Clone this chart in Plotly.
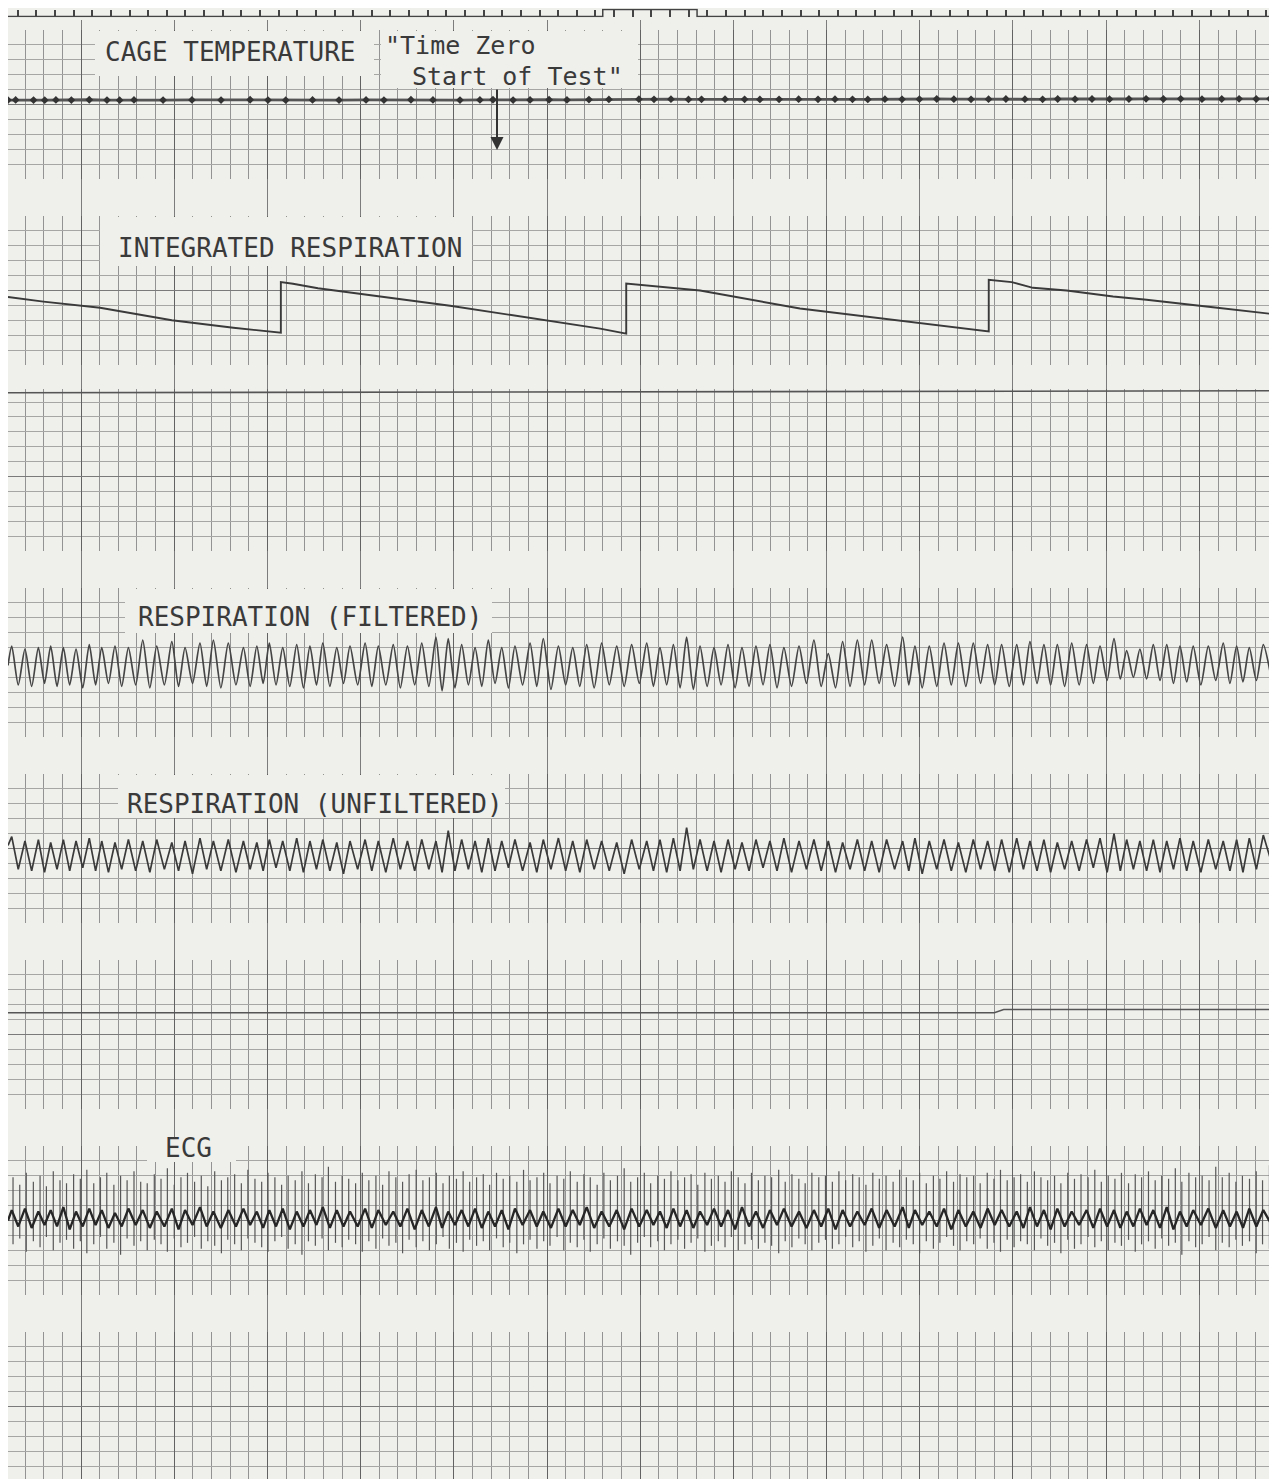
import plotly.graph_objects as go

W, H = 1277, 1479
# the page body keeps an 8 px margin, so the figure is drawn 8 px smaller
OFF = 8
FIG_W, FIG_H = W - OFF, H - OFF
PAPER = "#efefec"
INK = "#3a3a3a"

# x is in chart divisions (one small square of the paper)
cage_t = [-0.92, -0.51, 0.45, 1.05, 1.65, 2.48, 3.44, 4.39, 5.07, 5.84,
          7.40, 8.95, 10.51, 12.07, 13.03, 13.98, 15.42, 16.84, 18.29, 19.25,
          20.70, 21.88, 23.33, 24.40, 25.10, 26.18, 27.09, 28.11, 29.07, 30.25,
          31.32, 32.93, 33.74, 34.65, 35.59, 36.29, 37.55, 38.60, 39.42, 40.45,
          41.50, 42.54, 43.45, 44.39, 45.21, 46.13, 47.05, 47.98, 48.91, 49.83,
          50.75, 51.69, 52.62, 53.64, 54.59, 55.40, 56.33, 57.24, 58.18, 59.22,
          60.14, 61.07, 62.00, 63.14, 64.20, 65.13, 66.05, 66.79]
cage_v = [5.30, 5.31, 5.30, 5.29, 5.31, 5.30, 5.32, 5.30, 5.29, 5.31,
          5.30, 5.31, 5.30, 5.32, 5.30, 5.29, 5.31, 5.30, 5.31, 5.30,
          5.32, 5.31, 5.30, 5.31, 5.32, 5.30, 5.31, 5.32, 5.31, 5.33,
          5.34, 5.36, 5.35, 5.36, 5.34, 5.35, 5.36, 5.35, 5.34, 5.35,
          5.36, 5.35, 5.36, 5.35, 5.34, 5.36, 5.35, 5.36, 5.37, 5.36,
          5.35, 5.36, 5.37, 5.36, 5.35, 5.37, 5.36, 5.37, 5.36, 5.37,
          5.38, 5.37, 5.38, 5.36, 5.37, 5.38, 5.37, 5.38]

int_resp_t = [-0.92, 0.98, 4.02, 7.87, 11.17, 13.72, 13.72, 14.37, 15.71, 22.80,
              30.85, 32.25, 32.25, 36.21, 41.57, 46.94, 51.70, 51.70, 52.93, 54.07,
              55.88, 58.37, 60.17, 63.73, 66.79]
int_resp_v = [4.56, 4.25, 3.84, 3.00, 2.50, 2.17, 5.56, 5.45, 5.15, 3.98,
              2.44, 2.11, 5.47, 5.00, 3.79, 2.99, 2.25, 5.72, 5.56, 5.18,
              5.00, 4.60, 4.38, 3.88, 3.44]

ch3_t = [-0.92, 66.79]
ch3_v = [10.62, 10.75]

breath_pk_t = [-0.72, -0.01, 0.71, 1.37, 2.05, 2.73, 3.44, 4.11, 4.82, 5.54,
               6.31, 7.06, 7.87, 8.58, 9.38, 10.10, 10.90, 11.71, 12.43, 13.10,
               13.82, 14.57, 15.28, 15.97, 16.72, 17.43, 18.24, 18.95, 19.75, 20.51,
               21.28, 22.04, 22.70, 23.42, 24.14, 24.85, 25.57, 26.28, 27.09, 27.80,
               28.61, 29.38, 30.13, 30.93, 31.74, 32.54, 33.35, 34.06, 34.78, 35.49,
               36.21, 36.96, 37.71, 38.46, 39.21, 39.96, 40.71, 41.52, 42.32, 43.09,
               43.86, 44.65, 45.42, 46.22, 47.08, 47.74, 48.51, 49.30, 50.07, 50.87,
               51.64, 52.39, 53.20, 53.91, 54.66, 55.38, 56.15, 56.95, 57.67, 58.42,
               59.10, 59.81, 60.53, 61.25, 61.96, 62.67, 63.48, 64.28, 65.00, 65.68,
               66.43]
breath_tr_t = [-0.92, -0.37, 0.35, 1.04, 1.71, 2.39, 3.09, 3.78, 4.47, 5.18,
               5.93, 6.69, 7.47, 8.23, 8.98, 9.74, 10.50, 11.31, 12.07, 12.77,
               13.46, 14.20, 14.93, 15.63, 16.35, 17.08, 17.84, 18.60, 19.35, 20.13,
               20.90, 21.66, 22.37, 23.06, 23.78, 24.50, 25.21, 25.93, 26.69, 27.45,
               28.21, 29.00, 29.76, 30.53, 31.34, 32.14, 32.95, 33.71, 34.42, 35.14,
               35.85, 36.59, 37.34, 38.09, 38.84, 39.59, 40.34, 41.12, 41.92, 42.71,
               43.48, 44.26, 45.04, 45.82, 46.65, 47.41, 48.13, 48.91, 49.69, 50.47,
               51.26, 52.02, 52.80, 53.56, 54.29, 55.02, 55.77, 56.55, 57.31, 58.05,
               58.76, 59.46, 60.17, 60.89, 61.61, 62.32, 63.08, 63.88, 64.64, 65.34,
               66.06, 66.79]

filt_pk = [6.1, 5.9, 6.0, 6.1, 6.0, 5.9, 6.2, 6.0, 6.1, 6.0,
           6.5, 6.1, 6.4, 6.0, 6.3, 6.5, 6.3, 6.0, 6.1, 6.3,
           6.0, 6.2, 6.1, 6.3, 6.0, 6.1, 6.3, 6.1, 6.2, 6.1,
           6.3, 6.7, 6.6, 6.2, 6.0, 6.5, 6.0, 6.1, 6.3, 6.6,
           6.1, 6.0, 6.2, 6.3, 6.1, 6.2, 6.3, 6.0, 6.2, 6.7,
           6.1, 6.0, 6.2, 6.0, 6.1, 6.2, 6.0, 6.1, 6.5, 5.6,
           6.4, 6.5, 6.5, 6.2, 6.7, 6.1, 6.1, 6.3, 6.3, 6.3,
           6.2, 6.2, 6.2, 6.4, 6.2, 6.2, 6.3, 6.2, 6.1, 6.6,
           5.8, 5.9, 6.2, 6.2, 6.1, 6.1, 6.1, 6.3, 6.1, 6.0,
           6.2]
filt_tr = [4.8,
           3.5, 3.4, 3.6, 3.4, 3.5, 3.3, 3.5, 3.6, 3.4, 3.5,
           3.3, 3.5, 3.4, 3.6, 3.4, 3.3, 3.5, 3.4, 3.6, 3.5,
           3.4, 3.3, 3.5, 3.4, 3.6, 3.5, 3.4, 3.5, 3.3, 3.5,
           3.4, 3.1, 3.3, 3.5, 3.4, 3.6, 3.3, 3.5, 3.4, 3.2,
           3.5, 3.4, 3.3, 3.5, 3.4, 3.6, 3.4, 3.5, 3.3, 3.2,
           3.4, 3.5, 3.3, 3.4, 3.5, 3.3, 3.4, 3.6, 3.4, 3.3,
           3.4, 3.5, 3.6, 3.4, 3.5, 3.3, 3.4, 3.5, 3.4, 3.6,
           3.5, 3.4, 3.5, 3.6, 3.5, 3.4, 3.5, 3.6, 3.8, 3.9,
           4.0, 3.9, 3.8, 3.6, 3.7, 3.5, 3.8, 3.6, 3.7, 3.8,
           4.4]

unf_pk = [5.8, 5.5, 5.6, 5.4, 5.6, 5.5, 5.7, 5.5, 5.4, 5.6,
          5.5, 5.6, 5.4, 5.5, 5.7, 5.5, 5.6, 5.5, 5.4, 5.6,
          5.5, 5.7, 5.5, 5.6, 5.4, 5.5, 5.6, 5.5, 5.7, 5.5,
          5.6, 5.5, 6.2, 5.6, 5.5, 5.7, 5.5, 5.6, 5.4, 5.6,
          5.7, 5.5, 5.6, 5.5, 5.4, 5.6, 5.5, 5.6, 5.7, 6.4,
          5.6, 5.5, 5.6, 5.4, 5.6, 5.5, 5.7, 5.5, 5.6, 5.5,
          5.4, 5.6, 5.5, 5.6, 5.5, 5.7, 5.5, 5.6, 5.4, 5.6,
          5.5, 5.6, 5.7, 5.5, 5.6, 5.4, 5.5, 5.6, 5.7, 6.0,
          5.6, 5.5, 5.6, 5.5, 5.7, 5.5, 5.6, 5.5, 5.6, 5.7,
          5.9]
unf_tr = [5.2,
          3.6, 3.5, 3.4, 3.6, 3.5, 3.7, 3.5, 3.4, 3.6, 3.5,
          3.4, 3.6, 3.5, 3.3, 3.6, 3.5, 3.4, 3.6, 3.5, 3.7,
          3.5, 3.4, 3.6, 3.5, 3.3, 3.6, 3.5, 3.4, 3.6, 3.5,
          3.6, 3.4, 3.5, 3.6, 3.4, 3.5, 3.7, 3.5, 3.4, 3.6,
          3.5, 3.4, 3.6, 3.5, 3.3, 3.6, 3.5, 3.4, 3.5, 3.6,
          3.5, 3.4, 3.6, 3.5, 3.7, 3.5, 3.4, 3.6, 3.5, 3.4,
          3.6, 3.5, 3.4, 3.6, 3.5, 3.3, 3.6, 3.5, 3.4, 3.6,
          3.5, 3.4, 3.6, 3.5, 3.4, 3.6, 3.5, 3.7, 3.4, 3.5,
          3.6, 3.5, 3.4, 3.6, 3.5, 3.4, 3.6, 3.5, 3.4, 3.6,
          4.4]

ch6_t = [-0.92, 52.0, 52.5, 66.79]
ch6_v = [6.46, 6.46, 6.68, 6.68]

ecg_first = -0.65
ecg_rr = [0.36, 0.35, 0.38, 0.36, 0.34, 0.37, 0.36, 0.35, 0.38, 0.36,
          0.35, 0.37, 0.36, 0.34, 0.38, 0.36, 0.35, 0.37, 0.36, 0.35,
          0.38, 0.36, 0.34, 0.37, 0.36, 0.35, 0.38, 0.36, 0.35, 0.37,
          0.36, 0.34, 0.37, 0.36, 0.35, 0.38, 0.36, 0.34, 0.37, 0.36,
          0.35, 0.38, 0.36, 0.35, 0.37, 0.36, 0.34, 0.38, 0.36, 0.35,
          0.37, 0.36, 0.35, 0.38, 0.36, 0.34, 0.37, 0.36, 0.35, 0.38,
          0.36, 0.35, 0.37, 0.36, 0.34, 0.38, 0.36, 0.35, 0.37, 0.36,
          0.34, 0.37, 0.36, 0.35, 0.38, 0.36, 0.35, 0.37, 0.36, 0.34,
          0.38, 0.36, 0.35, 0.37, 0.36, 0.34, 0.37, 0.36, 0.35, 0.38,
          0.36, 0.35, 0.37, 0.36, 0.34, 0.38, 0.36, 0.35, 0.37, 0.36,
          0.35, 0.36, 0.38, 0.35, 0.37, 0.36, 0.34, 0.37, 0.36, 0.35,
          0.37, 0.35, 0.36, 0.38, 0.35, 0.36, 0.37, 0.34, 0.36, 0.37,
          0.36, 0.37, 0.35, 0.36, 0.38, 0.35, 0.36, 0.37, 0.35, 0.36,
          0.38, 0.35, 0.36, 0.37, 0.34, 0.36, 0.38, 0.35, 0.36, 0.37,
          0.35, 0.36, 0.37, 0.35, 0.38, 0.36, 0.35, 0.36, 0.37, 0.35,
          0.36, 0.38, 0.35, 0.36, 0.37, 0.34, 0.37, 0.36, 0.35, 0.38,
          0.36, 0.35, 0.37, 0.36, 0.35, 0.38, 0.36, 0.34, 0.37, 0.36,
          0.35, 0.37, 0.36, 0.35, 0.38, 0.36, 0.35, 0.37, 0.36, 0.35,
          0.37, 0.36, 0.35, 0.38, 0.36, 0.34, 0.37]
ecg_top = [7.9, 7.4, 8.2, 7.6, 8.0, 7.3, 8.3, 7.7, 7.5, 8.1,
           7.8, 8.4, 7.5, 7.9, 8.2, 7.4, 8.0, 7.7, 8.3, 7.6,
           7.5, 8.1, 7.8, 8.5, 7.4, 7.9, 8.2, 7.6, 8.0, 7.3,
           8.3, 7.7, 7.9, 8.1, 7.5, 8.4, 7.8, 7.6, 8.2, 7.9,
           7.4, 8.0, 7.7, 8.3, 7.5, 8.1, 7.9, 8.6, 7.6, 8.0,
           7.8, 7.5, 8.2, 7.7, 8.0, 7.4, 8.3, 7.9, 7.6, 8.1,
           8.4, 7.7, 7.9, 8.2, 7.5, 8.0, 7.8, 8.3, 7.6, 7.9,
           8.1, 7.4, 8.2, 7.8, 8.0, 7.6, 8.4, 7.7, 7.9, 8.2,
           7.5, 8.0, 7.8, 8.3, 7.6, 8.1, 7.9, 7.4, 8.2, 7.7,
           8.0, 8.5, 7.6, 7.9, 8.2, 7.5, 8.0, 7.8, 8.3, 7.7,
           7.9, 8.1, 7.4, 8.2, 7.8, 8.0, 7.6, 8.3, 7.9, 7.5,
           8.2, 7.7, 8.0, 7.9, 8.4, 7.6, 8.1, 7.8, 7.5, 8.2,
           7.9, 8.0, 7.6, 8.3, 7.7, 8.1, 7.9, 7.4, 8.2, 7.8,
           8.0, 7.6, 8.4, 7.9, 7.7, 8.2, 7.5, 8.0, 7.8, 8.3,
           7.6, 8.1, 7.9, 8.0, 7.5, 8.2, 7.8, 8.4, 7.7, 7.9,
           8.1, 7.6, 8.3, 7.9, 7.7, 8.0, 7.5, 8.2, 7.8, 8.1,
           7.9, 8.4, 7.6, 8.0, 7.8, 8.2, 7.5, 8.1, 7.9, 8.3,
           7.7, 8.0, 7.8, 8.5, 7.6, 8.2, 7.9, 8.0, 7.7, 8.6,
           7.9, 8.2, 7.6, 8.0, 7.8, 8.3, 7.7, 8.7]
ecg_bot = [3.4, 3.8, 2.9, 3.6, 3.2, 3.9, 3.0, 3.5, 3.7, 3.1,
           3.6, 2.8, 3.4, 3.9, 3.1, 3.5, 2.7, 3.8, 3.3, 3.6,
           3.0, 3.7, 3.4, 2.9, 3.8, 3.2, 3.5, 3.9, 3.1, 3.6,
           3.3, 2.8, 3.7, 3.4, 3.0, 3.8, 3.5, 3.2, 2.9, 3.6,
           3.9, 3.1, 3.4, 2.7, 3.6, 3.3, 3.8, 3.0, 3.5, 3.2,
           3.7, 3.4, 2.9, 3.6, 3.1, 3.8, 3.3, 3.5, 2.8, 3.7,
           3.2, 3.6, 3.0, 3.4, 3.9, 3.1, 3.5, 2.9, 3.7, 3.3,
           3.6, 3.0, 3.8, 3.2, 3.5, 2.8, 3.4, 3.7, 3.1, 3.6,
           3.3, 3.9, 3.0, 3.5, 3.2, 3.7, 2.9, 3.4, 3.8, 3.1,
           3.6, 3.3, 2.7, 3.5, 3.9, 3.2, 3.6, 3.0, 3.4, 3.7,
           3.1, 3.5, 3.8, 2.9, 3.3, 3.6, 3.2, 3.9, 3.0, 3.4,
           3.7, 3.1, 3.5, 3.3, 2.8, 3.6, 3.2, 3.8, 3.4, 3.0,
           3.5, 3.7, 3.1, 3.4, 3.9, 3.2, 3.6, 2.9, 3.3, 3.8,
           3.0, 3.5, 3.2, 3.7, 3.4, 2.8, 3.6, 3.1, 3.5, 3.9,
           3.3, 3.0, 3.6, 3.4, 3.8, 3.1, 3.5, 2.9, 3.7, 3.2,
           3.6, 3.4, 3.0, 3.8, 3.3, 3.5, 2.8, 3.7, 3.1, 3.4,
           3.9, 3.2, 3.6, 3.0, 3.5, 3.3, 3.7, 2.9, 3.4, 3.6,
           3.1, 3.8, 3.3, 3.5, 2.7, 3.6, 3.2, 3.4, 3.9, 3.0,
           3.5, 3.2, 3.7, 3.3, 3.6, 2.8, 3.4, 3.1]
ecg_hi = [5.7, 5.8, 5.6, 5.7, 5.9, 5.6, 5.8, 5.7, 5.5, 5.8,
          5.7, 5.6, 5.8, 5.7, 5.9, 5.6, 5.7, 5.8, 5.6, 5.7,
          5.8, 5.6, 5.7, 5.9, 5.7, 5.6, 5.8, 5.7, 5.6, 5.8,
          5.7, 5.9, 5.6, 5.7, 5.8, 5.6, 5.7, 5.8, 5.7, 5.6,
          5.8, 5.7, 5.9, 5.6, 5.7, 5.8, 5.7, 5.6, 5.8, 5.7,
          5.6, 5.8, 5.7, 5.9, 5.6, 5.7, 5.8, 5.6, 5.7, 5.8,
          5.7, 5.6, 5.8, 5.7, 5.9, 5.7, 5.6, 5.8, 5.7, 5.6,
          5.8, 5.7, 5.6, 5.9, 5.7, 5.8, 5.6, 5.7, 5.8, 5.7,
          5.6, 5.8, 5.7, 5.9, 5.6, 5.7, 5.8, 5.7, 5.6, 5.8,
          5.7]
ecg_lo = [5.0,
          4.6, 4.5, 4.7, 4.6, 4.4, 4.6, 4.7, 4.5, 4.6, 4.7,
          4.5, 4.6, 4.4, 4.7, 4.6, 4.5, 4.6, 4.7, 4.5, 4.6,
          4.4, 4.6, 4.7, 4.5, 4.6, 4.6, 4.5, 4.7, 4.6, 4.4,
          4.6, 4.5, 4.7, 4.6, 4.5, 4.6, 4.4, 4.7, 4.6, 4.5,
          4.6, 4.7, 4.5, 4.6, 4.4, 4.6, 4.7, 4.5, 4.6, 4.5,
          4.7, 4.6, 4.4, 4.6, 4.5, 4.7, 4.6, 4.5, 4.6, 4.4,
          4.6, 4.7, 4.5, 4.6, 4.5, 4.7, 4.6, 4.4, 4.6, 4.5,
          4.7, 4.6, 4.5, 4.6, 4.4, 4.6, 4.7, 4.5, 4.6, 4.5,
          4.6, 4.7, 4.5, 4.4, 4.6, 4.7, 4.5, 4.6, 4.5, 4.6,
          4.9]

# event marker pen: up while the test starts
event_t = [-0.92, 30.99, 30.99, 36.05, 36.05, 66.79]
event_v = [0, 0, 1, 1, 0, 0]


def px(x):
    return (x - OFF) / FIG_W


def py(y):
    return 1 - (y - OFF) / FIG_H


def wave(pk_t, tr_t, pk_v, tr_v):
    xs, ys = [], []
    for i in range(len(pk_t)):
        xs += [tr_t[i], pk_t[i]]
        ys += [tr_v[i], pk_v[i]]
    xs.append(tr_t[-1])
    ys.append(tr_v[-1])
    return xs, ys


X_RANGE = [-0.92, 66.79]
X_DOM = [px(8), px(1270)]
ROW = 14.9
band_top = [30, 216, 402, 588, 774, 960, 1146, 1332]

layout = dict(width=FIG_W, height=FIG_H, margin=dict(l=0, r=0, t=0, b=0),
              paper_bgcolor=PAPER, plot_bgcolor="rgba(0,0,0,0)",
              showlegend=False, hovermode=False)

hidden = dict(showticklabels=False, ticks="", zeroline=False, showline=False)

# heavy lines that run through the gaps between channels
layout["xaxis"] = dict(domain=X_DOM, range=X_RANGE, tickmode="linear", tick0=3, dtick=5,
                       showgrid=True, gridcolor="#7c7c7c", gridwidth=1.2, anchor="y", **hidden)
layout["yaxis"] = dict(domain=[0, py(20)], range=[0, 1], showgrid=False, anchor="x", **hidden)

for i, top in enumerate(band_top):
    n = i + 2
    bottom = top + 10 * ROW
    dom_top = 389 if i == 2 else top
    dom_bot = min(bottom, H)
    layout["xaxis%d" % n] = dict(
        domain=X_DOM, range=X_RANGE, anchor="y%d" % n,
        tickmode="linear", tick0=3, dtick=5, showgrid=True, gridcolor="#626262", gridwidth=1.4,
        minor=dict(tickmode="linear", tick0=0, dtick=1, showgrid=True, gridcolor="#939393", gridwidth=1),
        **hidden)
    layout["yaxis%d" % n] = dict(
        domain=[py(dom_bot), py(dom_top)],
        range=[(bottom - dom_bot) / ROW, (bottom - dom_top) / ROW], anchor="x%d" % n,
        tickmode="array", tickvals=[5], showgrid=True, gridcolor="#7a7a7a", gridwidth=1.4,
        minor=dict(tickmode="array", tickvals=[0, 1, 2, 3, 4, 6, 7, 8, 9, 10],
                   showgrid=True, gridcolor="#a6a6a4", gridwidth=1),
        **hidden)

layout["xaxis10"] = dict(domain=X_DOM, range=X_RANGE, anchor="y10", showgrid=False,
                         showticklabels=False, zeroline=False, showline=False,
                         tickmode="linear", tick0=0.6, dtick=1, ticks="inside",
                         ticklen=7, tickwidth=1.6, tickcolor="#444")
layout["yaxis10"] = dict(domain=[py(17.2), py(8.4)], range=[-0.1, 1.15], anchor="x10",
                         showgrid=False, **hidden)

fig = go.Figure()
fig.add_trace(go.Scatter(x=[], y=[], xaxis="x", yaxis="y"))

fig.add_trace(go.Scatter(x=event_t, y=event_v, mode="lines", xaxis="x10", yaxis="y10",
                         line=dict(color="#444", width=1.5)))

fig.add_trace(go.Scatter(x=cage_t, y=cage_v, mode="lines+markers", xaxis="x2", yaxis="y2",
                         line=dict(color="#555", width=2.8),
                         marker=dict(symbol="diamond", size=6, color="#333")))

fig.add_trace(go.Scatter(x=int_resp_t, y=int_resp_v, mode="lines", xaxis="x3", yaxis="y3",
                         line=dict(color=INK, width=1.9)))

fig.add_trace(go.Scatter(x=ch3_t, y=ch3_v, mode="lines", xaxis="x4", yaxis="y4",
                         line=dict(color="#555", width=1.6)))

fx, fy = wave(breath_pk_t, breath_tr_t, filt_pk, filt_tr)
fig.add_trace(go.Scatter(x=fx, y=fy, mode="lines", xaxis="x5", yaxis="y5",
                         line=dict(color="#454545", width=1.7, shape="spline", smoothing=0.7)))

ux, uy = wave(breath_pk_t, breath_tr_t, unf_pk, unf_tr)
fig.add_trace(go.Scatter(x=ux, y=uy, mode="lines", xaxis="x6", yaxis="y6",
                         line=dict(color="#3a3a3a", width=1.7)))

fig.add_trace(go.Scatter(x=ch6_t, y=ch6_v, mode="lines", xaxis="x7", yaxis="y7",
                         line=dict(color="#555", width=1.5)))

# ECG: QRS spikes as thin strokes, baseline sway drawn over them
beat_t = [ecg_first]
for rr in ecg_rr:
    beat_t.append(beat_t[-1] + rr)
sx, sy = [], []
for t, a, b in zip(beat_t, ecg_top, ecg_bot):
    sx += [t, t, None]
    sy += [a, b, None]
fig.add_trace(go.Scatter(x=sx, y=sy, mode="lines", xaxis="x8", yaxis="y8",
                         line=dict(color="#575757", width=1.2)))
ex, ey = wave(breath_pk_t, breath_tr_t, ecg_hi, ecg_lo)
fig.add_trace(go.Scatter(x=ex, y=ey, mode="lines", xaxis="x8", yaxis="y8",
                         line=dict(color="#262626", width=2.3)))

fig.add_trace(go.Scatter(x=[], y=[], xaxis="x9", yaxis="y9"))

# white patches where the labels were typed over the grid
label_boxes = [(95, 31, 374, 76), (381, 31, 638, 88), (100, 217, 472, 266),
               (125, 589, 492, 633), (118, 775, 505, 818), (147, 1138, 236, 1162)]
shapes = []
for x0, y0, x1, y1 in label_boxes:
    shapes.append(dict(type="rect", xref="paper", yref="paper",
                       x0=px(x0), x1=px(x1), y0=py(y1), y1=py(y0),
                       fillcolor=PAPER, line=dict(width=0), layer="above"))
layout["shapes"] = shapes

lab_font = dict(family="DejaVu Sans Mono", size=26, color=INK)
labels = [("CAGE TEMPERATURE", 230, 52), ("INTEGRATED RESPIRATION", 290, 248),
          ("RESPIRATION (FILTERED)", 310, 617), ("RESPIRATION (UNFILTERED)", 315, 804),
          ("ECG", 188, 1148)]
ann = []
for text, cx, cy in labels:
    ann.append(dict(text=text, x=px(cx), y=py(cy), xref="paper", yref="paper",
                    xanchor="center", yanchor="middle", showarrow=False, font=lab_font))
note_font = dict(family="DejaVu Sans Mono", size=25, color=INK)
ann.append(dict(text="\"Time Zero", x=px(383), y=py(45), xref="paper", yref="paper",
                xanchor="left", yanchor="middle", showarrow=False, font=note_font))
ann.append(dict(text="Start of Test\"", x=px(410), y=py(77), xref="paper", yref="paper",
                xanchor="left", yanchor="middle", showarrow=False, font=note_font))
ann.append(dict(text="", x=px(497), y=py(150), xref="paper", yref="paper",
                showarrow=True, ax=0, ay=-62, arrowhead=2, arrowsize=1.3,
                arrowwidth=2, arrowcolor="#333"))
layout["annotations"] = ann

fig.update_layout(**layout)
fig.write_html("out.html")
